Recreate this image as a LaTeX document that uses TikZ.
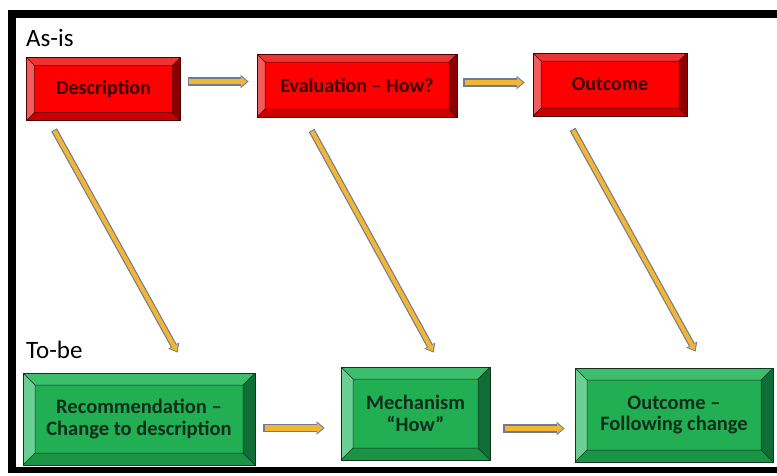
\documentclass[tikz,border=0pt]{standalone}
\usepackage{fontspec}
\setmainfont{Carlito}
\usetikzlibrary{arrows.meta,calc}
\definecolor{rmid}{HTML}{FF0000}
\definecolor{rtop}{HTML}{EC3434}
\definecolor{rleft}{HTML}{F25C5C}
\definecolor{rbot}{HTML}{C80000}
\definecolor{rright}{HTML}{8C0000}
\definecolor{rline}{HTML}{4A0000}
\definecolor{rtext}{HTML}{3C0000}
\definecolor{gmid}{HTML}{22AE52}
\definecolor{gtop}{HTML}{3DBE6C}
\definecolor{gleft}{HTML}{6ACF92}
\definecolor{gbot}{HTML}{1A9444}
\definecolor{gright}{HTML}{0F6E35}
\definecolor{gline}{HTML}{0F3320}
\definecolor{gtext}{HTML}{0D2E1A}
\definecolor{agold}{HTML}{F2B632}
\definecolor{aline}{HTML}{6D7B96}
\newlength\bev
\newcommand\bevelpaint[5]{%
  \fill[#1] (path picture bounding box.north west) -- (path picture bounding box.north east)
    -- ([xshift=-\bev,yshift=-\bev]path picture bounding box.north east)
    -- ([xshift=\bev,yshift=-\bev]path picture bounding box.north west) -- cycle;
  \fill[#2] (path picture bounding box.north west) -- (path picture bounding box.south west)
    -- ([xshift=\bev,yshift=\bev]path picture bounding box.south west)
    -- ([xshift=\bev,yshift=-\bev]path picture bounding box.north west) -- cycle;
  \fill[#3] (path picture bounding box.south west) -- (path picture bounding box.south east)
    -- ([xshift=-\bev,yshift=\bev]path picture bounding box.south east)
    -- ([xshift=\bev,yshift=\bev]path picture bounding box.south west) -- cycle;
  \fill[#4] (path picture bounding box.north east) -- (path picture bounding box.south east)
    -- ([xshift=-\bev,yshift=\bev]path picture bounding box.south east)
    -- ([xshift=-\bev,yshift=-\bev]path picture bounding box.north east) -- cycle;
  \draw[#5,line width=0.5pt]
    ([xshift=\bev,yshift=-\bev]path picture bounding box.north west) rectangle
    ([xshift=-\bev,yshift=\bev]path picture bounding box.south east)
    (path picture bounding box.north west) -- ([xshift=\bev,yshift=-\bev]path picture bounding box.north west)
    (path picture bounding box.north east) -- ([xshift=-\bev,yshift=-\bev]path picture bounding box.north east)
    (path picture bounding box.south west) -- ([xshift=\bev,yshift=\bev]path picture bounding box.south west)
    (path picture bounding box.south east) -- ([xshift=-\bev,yshift=\bev]path picture bounding box.south east);
}
% thick (horizontal) and thin (diagonal) block arrows
\newcommand\flowarrow[2]{%
  \draw[line width=8.5pt,draw=aline,line cap=butt,-{Triangle[length=8pt,width=13pt]}] #1 -- #2;
  \draw[line width=5.5pt,draw=agold,line cap=butt,shorten <=1.2pt,shorten >=1.6pt,-{Triangle[length=6pt,width=9.5pt]}] #1 -- #2;
}
\newcommand\slantarrow[2]{%
  \draw[line width=6.5pt,draw=aline,line cap=butt,-{Triangle[length=8pt,width=12pt]}] #1 -- #2;
  \draw[line width=4.2pt,draw=agold,line cap=butt,shorten <=1pt,shorten >=1.4pt,-{Triangle[length=6pt,width=8.6pt]}] #1 -- #2;
}
\tikzset{
  bevel/.code={\setlength\bev{#1}},
  rbox/.style={draw=rline,line width=0.8pt,fill=rmid,inner sep=0pt,align=center,
    font=\bfseries\fontsize{20}{21}\selectfont,text=rtext,bevel=8pt,
    path picture={\bevelpaint{rtop}{rleft}{rbot}{rright}{rline}}},
  gbox/.style={draw=gline,line width=0.8pt,fill=gmid,inner sep=0pt,align=center,
    font=\bfseries\fontsize{20.5}{21.5}\selectfont,text=gtext,bevel=12pt,
    path picture={\bevelpaint{gtop}{gleft}{gbot}{gright}{gline}}},
  heading/.style={anchor=base west,inner sep=0pt,font=\fontsize{25}{28}\selectfont,text=black},
  framebar/.style={fill=black}
}
\begin{document}
\begin{tikzpicture}[x=1pt,y=-1pt]
\useasboundingbox[fill=white] (0,0) rectangle (777,475);
% frame
\fill[framebar] (8,10) rectangle (777,18);
\fill[framebar] (8,10) rectangle (16,473);
\fill[framebar] (8,467) rectangle (777,473);
% headings
\node[heading] (asis) at (26,46) {As-is};
\node[heading] (tobe) at (26,358) {To-be};
% red boxes
\node[rbox,minimum width=154pt,minimum height=63pt] (desc) at (103.5,89) {Description};
\node[rbox,minimum width=200pt,minimum height=63pt] (eval) at (357,85.5) {Evaluation – How?};
\node[rbox,minimum width=154pt,minimum height=63pt] (out) at (610,84.5) {Outcome};
% green boxes
\node[gbox,minimum width=232pt,minimum height=92pt] (rec) at (139,419) {Recommendation –\\Change to description};
\node[gbox,minimum width=149pt,minimum height=93pt] (mech) at (415.5,413.5) {Mechanism\\“How”};
\node[gbox,minimum width=198pt,minimum height=94pt] (outf) at (674,415) {Outcome –\\Following change};
% horizontal arrows
\flowarrow{([xshift=7pt,yshift=7.5pt]desc.east)}{([xshift=-8pt,yshift=7.5pt]desc.east -| eval.west)}
\flowarrow{([xshift=6pt,yshift=3pt]eval.east)}{([xshift=-8pt,yshift=3pt]eval.east -| out.west)}
\flowarrow{([xshift=8pt,yshift=-9pt]rec.east)}{([xshift=-16pt,yshift=-9pt]rec.east -| mech.west)}
\flowarrow{([xshift=13pt,yshift=-15pt]mech.east)}{([xshift=-10pt,yshift=-15pt]mech.east -| outf.west)}
% diagonal arrows
\slantarrow{([xshift=28pt,yshift=-9pt]desc.south west)}{([xshift=155pt,yshift=20pt]rec.north west)}
\slantarrow{([xshift=55pt,yshift=-13pt]eval.south west)}{([xshift=93pt,yshift=14pt]mech.north west)}
\slantarrow{([xshift=40pt,yshift=-13pt]out.south west)}{([xshift=121pt,yshift=16pt]outf.north west)}
\end{tikzpicture}
\end{document}
